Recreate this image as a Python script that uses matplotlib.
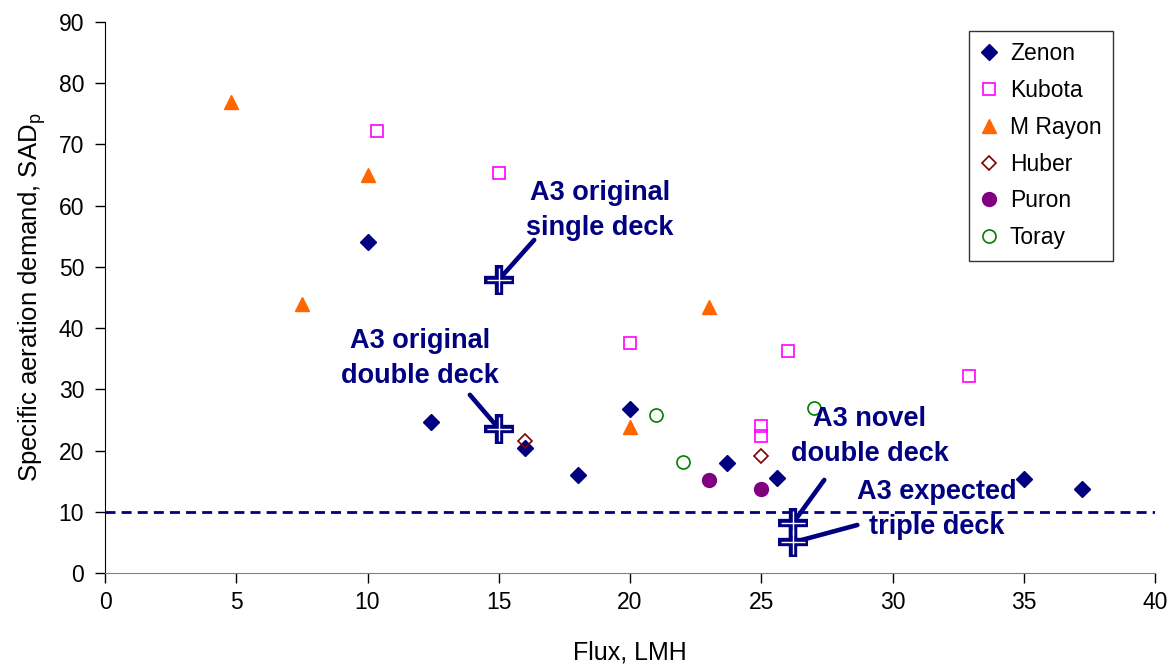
import matplotlib
matplotlib.use('Agg')
import matplotlib.pyplot as plt

plt.rcParams['font.family'] = ['Liberation Sans', 'DejaVu Sans']

# data
zenon_x = [10, 12.4, 16, 18, 20, 23.7, 25.6, 35, 37.2]
zenon_y = [54, 24.7, 20.4, 16, 26.8, 18, 15.5, 15.3, 13.7]
kubota_x = [10.35, 15, 20, 26, 25, 25, 32.9]
kubota_y = [72.2, 65.4, 37.5, 36.2, 24, 22.4, 32.1]
rayon_x = [4.8, 7.5, 10, 20, 23]
rayon_y = [77, 43.9, 65, 23.8, 43.4]
huber_x = [16, 25]
huber_y = [21.6, 19.1]
puron_x = [23, 25]
puron_y = [15.2, 13.8]
toray_x = [21, 22, 27]
toray_y = [25.8, 18.1, 26.9]

a3_x = [15, 15, 26.2, 26.2]
a3_y = [47.9, 23.6, 8.1, 5.0]
a3_labels = ['A3 original\nsingle deck', 'A3 original\ndouble deck',
             'A3 novel\ndouble deck', 'A3 expected\ntriple deck']
label_pos = [(18.86, 59.2), (12.0, 35.1), (29.14, 22.3), (31.68, 10.4)]
arrow_start = [(16.35, 54.4), (13.9, 29.1), (27.4, 15.2), (28.66, 7.84)]

sad_limit = 10

navy = '#000080'

fig = plt.figure(figsize=(11.71, 6.71), dpi=100)
ax = fig.add_axes([105 / 1171, 1 - 573 / 671, 1050 / 1171, 551 / 671])

ax.plot(zenon_x, zenon_y, 'D', ms=8.5, color=navy, mec=navy, label='Zenon', zorder=3)
ax.plot(kubota_x, kubota_y, 's', ms=9, mfc='none', mec='#FF00FF', mew=1.2, label='Kubota', zorder=3)
ax.plot(rayon_x, rayon_y, '^', ms=10.5, color='#FF6600', mec='#FF6600', label='M Rayon', zorder=3)
ax.plot(huber_x, huber_y, 'D', ms=7.5, mfc='none', mec='#800000', mew=1.2, label='Huber', zorder=4)
ax.plot(puron_x, puron_y, 'o', ms=10, color='#800080', mec='#800080', label='Puron', zorder=3)
ax.plot(toray_x, toray_y, 'o', ms=9.4, mfc='none', mec='#008000', mew=1.2, label='Toray', zorder=3)

ax.axhline(sad_limit, color=navy, lw=2, dashes=(3.6, 2.2), zorder=2)

for (tx, ty), (sx, sy), x, y, lab in zip(label_pos, arrow_start, a3_x, a3_y, a3_labels):
    ax.annotate('', xy=(x, y), xytext=(sx, sy),
                arrowprops=dict(arrowstyle='-', lw=3.3, color=navy, shrinkA=0, shrinkB=0),
                zorder=4)
    ax.text(tx, ty, lab, ha='center', va='center', fontsize=19.5, fontweight='bold',
            color=navy, linespacing=1.45, zorder=6)

# crosses: thick navy plus with thin white core
ax.plot(a3_x, a3_y, '+', ms=21, mew=6, color=navy, ls='none', zorder=5)
ax.plot(a3_x, a3_y, '+', ms=17, mew=1, color='white', ls='none', zorder=5)

ax.set_xlim(0, 40)
ax.set_ylim(0, 90)
ax.set_xticks(range(0, 41, 5))
ax.set_yticks(range(0, 91, 10))
ax.tick_params(axis='both', labelsize=16.5, length=7, width=1, direction='out')
ax.tick_params(axis='y', pad=8)
ax.tick_params(axis='x', pad=6)
ax.spines['top'].set_visible(False)
ax.spines['right'].set_visible(False)
ax.spines['bottom'].set_color('#808080')
ax.spines['left'].set_color('black')

ax.set_xlabel('Flux, LMH', fontsize=18, labelpad=19)
ax.set_ylabel('Specific aeration demand, SAD$_\\mathregular{p}$', fontsize=18.5, labelpad=8)

leg = ax.legend(loc='upper right', bbox_to_anchor=(1113 / 1171, 1 - 31 / 671),
                bbox_transform=fig.transFigure, borderaxespad=0, fontsize=16.5,
                frameon=True, fancybox=False, edgecolor='black', handlelength=0.8,
                handletextpad=0.5, labelspacing=0.6, borderpad=0.5, numpoints=1)
leg.get_frame().set_linewidth(1)

fig.savefig('out.png', dpi=100)
